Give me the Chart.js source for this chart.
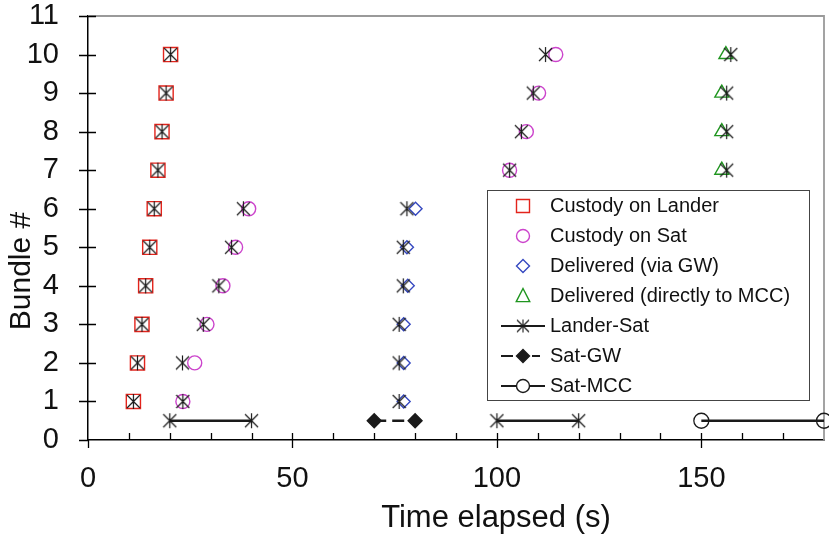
<!DOCTYPE html>
<html lang="en">
<head>
<meta charset="UTF-8">
<title>Bundle delivery timeline</title>
<script src="https://cdn.jsdelivr.net/npm/chart.js"></script>
<style>
    html, body { margin: 0; padding: 0; background: #fff; overflow: hidden; }
    .chart-container { position: relative; width: 829px; height: 538px; }
</style>
</head>
<body>
<div class="chart-container"><canvas id="bundleChart"></canvas></div>
<script>
    // bundle numbers
    const bundles = [1, 2, 3, 4, 5, 6, 7, 8, 9, 10];
    // measured times (s)
    const custodyLander = [11.1, 12.1, 13.2, 14.1, 15.1, 16.2, 17.1, 18.1, 19.1, 20.2];
    const custodySat = [23.2, 26.1, 29.1, 33.0, 36.1, 39.3, 103.1, 107.2, 110.2, 114.4];
    const deliveredGW = [77.2, 77.2, 77.2, 78.2, 78.0, 80.1];   // bundles 1-6
    const deliveredMCC = [155.0, 155.0, 155.0, 156.0];          // bundles 7-10
    // expected times (asterisks)
    const expectedLander = [11.1, 12.1, 13.2, 14.1, 15.1, 16.2, 17.1, 18.1, 19.1, 20.2];
    const expectedSat = [23.2, 23.1, 28.2, 32.0, 35.1, 38.0, 103.1, 106.0, 108.9, 111.9];
    const expectedGW = [76.1, 76.1, 76.1, 77.1, 77.1, 78.0];
    const expectedMCC = [156.2, 156.2, 156.2, 157.2];
    // contact windows, shown at y = 0.5
    const windowLevel = 0.5;
    const landerSatWindows = [[20, 40], [100, 120]];
    const satGWWindows = [[70, 80]];
    const satMCCWindows = [[150, 180]];
    // axis ticks
    const xMajorTicks = [0, 50, 100, 150];
    const xMinorStep = 10;
    const yStep = 1;

    const legendLabels = ['Custody on Lander', 'Custody on Sat', 'Delivered (via GW)',
        'Delivered (directly to MCC)', 'Lander-Sat', 'Sat-GW', 'Sat-MCC'];

    const RED = '#e3241c', MAGENTA = '#cc44cc', BLUE = '#3548c0', GREEN = '#1f951f', INK = '#1a1a1a';
    const FONT = '"Liberation Sans", Arial, sans-serif';

    function toPoints(times, firstIndex) {
        return times.map((t, i) => ({ x: t, y: bundles[firstIndex + i] }));
    }

    function windowPoints(wins) {
        const pts = [];
        wins.forEach((w, i) => {
            if (i > 0) pts.push({ x: (wins[i - 1][1] + w[0]) / 2, y: null });
            pts.push({ x: w[0], y: windowLevel }, { x: w[1], y: windowLevel });
        });
        return pts;
    }

    // six-armed asterisk marker
    function makeAsterisk(w, h, lw) {
        const c = document.createElement('canvas');
        c.width = w + 2; c.height = h + 2;
        const g = c.getContext('2d');
        const cx = c.width / 2, cy = c.height / 2, d = w / 2;
        g.strokeStyle = INK; g.lineWidth = lw;
        g.beginPath();
        g.moveTo(cx, cy - h / 2); g.lineTo(cx, cy + h / 2);
        g.moveTo(cx - d, cy - d); g.lineTo(cx + d, cy + d);
        g.moveTo(cx + d, cy - d); g.lineTo(cx - d, cy + d);
        g.stroke();
        return c;
    }
    const asterisk = makeAsterisk(13, 15, 1.2);
    const asteriskSmall = makeAsterisk(12, 13, 1.1);

    function starSet(times, firstIndex) {
        return {
            data: toPoints(times, firstIndex), pointStyle: asterisk, pointRadius: 7,
            borderColor: INK, backgroundColor: INK
        };
    }
    function markerSet(times, firstIndex, style, radius, color) {
        return {
            data: toPoints(times, firstIndex), pointStyle: style, pointRadius: radius,
            borderColor: color, backgroundColor: 'rgba(0,0,0,0)', pointBorderWidth: 1.4
        };
    }
    function windowSet(wins, style, radius, fill, dash) {
        return {
            data: windowPoints(wins), showLine: true, spanGaps: false, clip: false,
            borderColor: INK, borderWidth: 2.5, borderDash: dash || [],
            pointStyle: style, pointRadius: radius, pointBorderWidth: 1.3,
            pointBorderColor: INK, pointBackgroundColor: fill
        };
    }

    const datasets = [
        starSet(expectedLander, 0),
        starSet(expectedSat, 0),
        starSet(expectedGW, 0),
        starSet(expectedMCC, 6),
        markerSet(custodyLander, 0, 'rect', 10, RED),
        markerSet(custodySat, 0, 'circle', 7, MAGENTA),
        markerSet(deliveredGW, 0, 'rectRot', 6.5, BLUE),
        markerSet(deliveredMCC, 6, 'triangle', 8, GREEN),
        windowSet(landerSatWindows, asterisk, 8, INK),
        windowSet(satGWWindows, 'rectRot', 7, INK, [12, 6]),
        windowSet(satMCCWindows, 'circle', 7.5, 'rgba(0,0,0,0)')
    ];

    function drawMarker(ctx, style, x, y, r, color, fill) {
        ctx.save();
        ctx.strokeStyle = color; ctx.fillStyle = fill; ctx.lineWidth = 1.4;
        ctx.beginPath();
        if (style === 'rect') {
            ctx.rect(x - r, y - r, 2 * r, 2 * r);
        } else if (style === 'circle') {
            ctx.arc(x, y, r, 0, Math.PI * 2);
        } else if (style === 'rectRot') {
            ctx.moveTo(x - r, y); ctx.lineTo(x, y - r); ctx.lineTo(x + r, y); ctx.lineTo(x, y + r); ctx.closePath();
        } else if (style === 'triangle') {
            ctx.moveTo(x, y - r); ctx.lineTo(x + r * 0.9, y + r * 0.75); ctx.lineTo(x - r * 0.9, y + r * 0.75); ctx.closePath();
        }
        ctx.fill(); ctx.stroke();
        ctx.restore();
    }

    const framePlugin = {
        id: 'frame',
        beforeDatasetsDraw(chart) {
            const { ctx, chartArea: a, scales: { x, y } } = chart;
            ctx.save();
            // light top/right frame
            ctx.strokeStyle = '#9a9a9a'; ctx.lineWidth = 1.8;
            ctx.beginPath();
            ctx.moveTo(a.left, a.top); ctx.lineTo(a.right, a.top); ctx.lineTo(a.right, a.bottom);
            ctx.stroke();
            // tick marks
            ctx.strokeStyle = '#000'; ctx.lineWidth = 1.3;
            ctx.beginPath();
            for (let v = 0; v < x.max; v += xMinorStep) {
                const px = Math.round(x.getPixelForValue(v)) + 0.5;
                if (v > 0) { ctx.moveTo(px, a.bottom); ctx.lineTo(px, a.bottom - 7); }
                if (xMajorTicks.includes(v)) { ctx.moveTo(px, a.bottom); ctx.lineTo(px, a.bottom + 8); }
            }
            for (let v = 0; v <= y.max; v += yStep) {
                const py = Math.round(y.getPixelForValue(v)) + 0.5;
                ctx.moveTo(a.left - 9, py); ctx.lineTo(a.left + (v > 0 ? 8 : 0), py);
            }
            ctx.stroke();
            ctx.restore();
        },
        afterDraw(chart) {
            const ctx = chart.ctx;
            ctx.save();
            ctx.fillStyle = '#111';
            ctx.textBaseline = 'middle';
            ctx.textAlign = 'center';
            ctx.font = '31px ' + FONT;
            ctx.fillText('Time elapsed (s)', 496, 518);
            ctx.save();
            ctx.translate(22, 271);
            ctx.rotate(-Math.PI / 2);
            ctx.font = '30px ' + FONT;
            ctx.fillText('Bundle #', 0, 0);
            ctx.restore();

            // legend box
            const bx = 487.5, by = 190.5, bw = 322, bh = 210;
            ctx.fillStyle = '#fff';
            ctx.fillRect(bx, by, bw, bh);
            ctx.strokeStyle = '#444'; ctx.lineWidth = 1;
            ctx.strokeRect(bx, by, bw, bh);
            const sx = 523, tx = 550, y0 = 206, dy = 30;
            ctx.font = '20px ' + FONT;
            ctx.textAlign = 'left';
            legendLabels.forEach((label, i) => {
                const yy = y0 + i * dy;
                ctx.fillStyle = '#111';
                ctx.fillText(label, tx, yy);
                if (i === 0) drawMarker(ctx, 'rect', sx, yy, 6.5, RED, 'rgba(0,0,0,0)');
                if (i === 1) drawMarker(ctx, 'circle', sx, yy, 6.5, MAGENTA, 'rgba(0,0,0,0)');
                if (i === 2) drawMarker(ctx, 'rectRot', sx, yy, 6.5, BLUE, 'rgba(0,0,0,0)');
                if (i === 3) drawMarker(ctx, 'triangle', sx, yy, 7.5, GREEN, 'rgba(0,0,0,0)');
                if (i >= 4) {
                    ctx.strokeStyle = INK; ctx.lineWidth = 2;
                    ctx.beginPath();
                    if (i === 5) {
                        ctx.moveTo(501, yy); ctx.lineTo(513, yy);
                        ctx.moveTo(532, yy); ctx.lineTo(540, yy);
                    } else {
                        ctx.moveTo(501, yy); ctx.lineTo(545, yy);
                    }
                    ctx.stroke();
                }
                if (i === 4) ctx.drawImage(asteriskSmall, sx - asteriskSmall.width / 2, yy - asteriskSmall.height / 2);
                if (i === 5) drawMarker(ctx, 'rectRot', sx, yy, 6.5, INK, INK);
                if (i === 6) drawMarker(ctx, 'circle', sx, yy, 6.5, INK, '#fff');
            });
            ctx.restore();
        }
    };

    new Chart(document.getElementById('bundleChart').getContext('2d'), {
        type: 'scatter',
        data: { datasets: datasets },
        options: {
            responsive: true,
            maintainAspectRatio: false,
            animation: false,
            layout: { autoPadding: false, padding: { top: 16, right: 5, left: 0, bottom: 0 } },
            plugins: { legend: { display: false }, tooltip: { enabled: false } },
            scales: {
                x: {
                    type: 'linear', min: 0, max: 180,
                    afterFit: (s) => { s.height = 98; s.paddingLeft = 0; s.paddingRight = 0; },
                    border: { color: '#000', width: 1.5 },
                    grid: { drawOnChartArea: false, drawTicks: true, tickLength: 23, tickColor: 'rgba(0,0,0,0)' },
                    ticks: {
                        stepSize: xMinorStep, autoSkip: false, maxRotation: 0, padding: 0,
                        color: '#111', font: { family: FONT, size: 29, lineHeight: 1.1 },
                        callback: (v) => xMajorTicks.includes(v) ? v : ''
                    }
                },
                y: {
                    type: 'linear', min: 0, max: 11,
                    afterFit: (s) => { s.width = 88; s.paddingTop = 0; s.paddingBottom = 0; },
                    border: { color: '#000', width: 1.5 },
                    grid: { drawOnChartArea: false, drawTicks: true, tickLength: 29, tickColor: 'rgba(0,0,0,0)' },
                    ticks: {
                        stepSize: yStep, padding: 0, color: '#111',
                        font: { family: FONT, size: 29, lineHeight: 1.1 }
                    }
                }
            }
        },
        plugins: [framePlugin]
    });
</script>
</body>
</html>
